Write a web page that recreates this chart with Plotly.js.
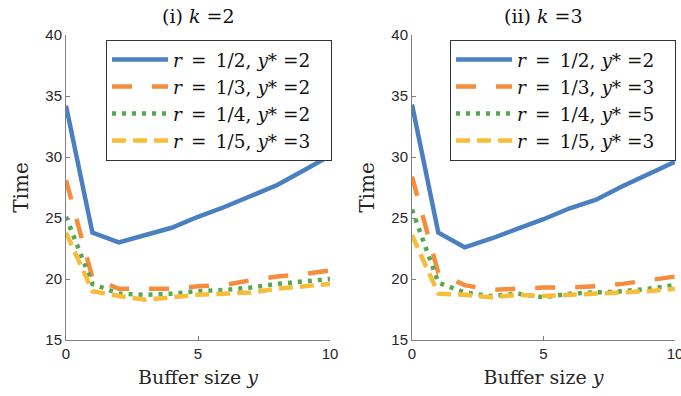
<!DOCTYPE html>
<html>
<head>
<meta charset="utf-8">
<script src="https://cdn.plot.ly/plotly-3.0.1.min.js"></script>
<style>html,body{margin:0;padding:0;background:#fff;}#chart{width:681px;height:396px;}</style>
</head>
<body>
<div id="chart"></div>
<script>
var bufferSize = [0, 1, 2, 3, 4, 5, 6, 7, 8, 9, 10];

// (i) k = 2
var k2_r2 = [34.2, 23.8, 23.0, 23.6, 24.2, 25.1, 25.9, 26.8, 27.7, 28.9, 30.1];
var k2_r3 = [28.1, 20.1, 19.2, 19.2, 19.2, 19.4, 19.5, 19.9, 20.2, 20.4, 20.7];
var k2_r4 = [25.1, 19.6, 18.8, 18.7, 18.8, 19.0, 19.1, 19.3, 19.6, 19.8, 20.0];
var k2_r5 = [23.8, 19.0, 18.6, 18.3, 18.5, 18.7, 18.8, 18.9, 19.2, 19.4, 19.6];

// (ii) k = 3
var k3_r2 = [34.3, 23.8, 22.6, 23.3, 24.1, 24.9, 25.8, 26.5, 27.6, 28.6, 29.6];
var k3_r3 = [28.4, 20.5, 19.5, 19.1, 19.2, 19.3, 19.3, 19.4, 19.6, 19.9, 20.2];
var k3_r4 = [25.7, 19.7, 18.9, 18.6, 18.8, 18.5, 18.8, 18.9, 19.0, 19.2, 19.5];
var k3_r5 = [23.6, 18.8, 18.7, 18.5, 18.7, 18.6, 18.7, 18.8, 18.9, 19.0, 19.2];

var rLabels = ['1/2', '1/3', '1/4', '1/5'];
var yStarK2 = ['2', '2', '2', '3'];
var yStarK3 = ['2', '3', '5', '3'];
var panelTitles = ['(i) <i>k</i> =2', '(ii) <i>k</i> =3'];

function legendName(r, ys) {
  return '<i>r</i>&#8194;=&#8194;' + r + ', <i>y</i>* =' + ys + '&nbsp;&nbsp;&#8201;';
}

var colors = ['#4a80bf', '#f58d3c', '#56a84f', '#f7bd3a'];
var dashes = ['solid', '20px,20px', '4px,6px', '14px,7px'];
var widths = [4.5, 4.5, 4.5, 4.5];

var traces = [];
[[k2_r2, k2_r3, k2_r4, k2_r5], [k3_r2, k3_r3, k3_r4, k3_r5]].forEach(function (set, p) {
  var ystars = p === 0 ? yStarK2 : yStarK3;
  set.forEach(function (ys, i) {
    traces.push({
      x: bufferSize, y: ys, type: 'scatter', mode: 'lines', name: legendName(rLabels[i], ystars[i]),
      xaxis: p === 0 ? 'x' : 'x2', yaxis: p === 0 ? 'y' : 'y2',
      legend: p === 0 ? 'legend' : 'legend2',
      line: {color: colors[i], width: widths[i], dash: dashes[i]}
    });
  });
});

var serif = 'DejaVu Serif';
var sans = 'Liberation Sans';

function xax(domain, anchor) {
  return {domain: domain, anchor: anchor, range: [0, 10], tickvals: [0, 5, 10],
    showgrid: false, zeroline: false, showline: true, linecolor: '#808080', linewidth: 1,
    ticks: 'inside', ticklen: 4, tickcolor: '#808080', ticklabeloverflow: 'allow',
    tickfont: {family: sans, size: 15, color: '#262626'},
    title: {text: 'Buffer size <i>y</i>', font: {family: serif, size: 19, color: '#262626'}, standoff: 9}};
}
function yax(domain, anchor) {
  return {domain: domain, anchor: anchor, range: [15, 40], tickvals: [15, 20, 25, 30, 35, 40],
    showgrid: false, zeroline: false, showline: true, linecolor: '#808080', linewidth: 1,
    ticks: 'inside', ticklen: 4, tickcolor: '#808080',
    tickfont: {family: sans, size: 15, color: '#262626'},
    title: {text: 'Time', font: {family: serif, size: 20, color: '#262626'}, standoff: 11}};
}
function leg(xr) {
  return {x: xr, xanchor: 'right', y: 0.984, yanchor: 'top', bgcolor: '#ffffff',
    bordercolor: '#333333', borderwidth: 1, font: {family: serif, size: 18.5, color: '#111'},
    itemwidth: 56, tracegroupgap: 0};
}

var layout = {
  width: 681, height: 396, margin: {l: 0, r: 0, t: 35, b: 56},
  paper_bgcolor: '#ffffff', plot_bgcolor: '#ffffff', showlegend: true,
  xaxis: xax([66 / 681, 330 / 681], 'y'),
  yaxis: yax([0, 1], 'x'),
  xaxis2: xax([412 / 681, 675 / 681], 'y2'),
  yaxis2: yax([0, 1], 'x2'),
  legend: leg(332 / 681),
  legend2: leg(676 / 681),
  annotations: [
    {text: panelTitles[0], xref: 'paper', yref: 'paper', x: 198 / 681, y: 1, yshift: 19, showarrow: false,
     xanchor: 'center', yanchor: 'middle', font: {family: serif, size: 19, color: '#111'}},
    {text: panelTitles[1], xref: 'paper', yref: 'paper', x: 543.5 / 681, y: 1, yshift: 19, showarrow: false,
     xanchor: 'center', yanchor: 'middle', font: {family: serif, size: 19, color: '#111'}}
  ]
};

Plotly.newPlot('chart', traces, layout, {displayModeBar: false, staticPlot: true});
</script>
</body>
</html>
